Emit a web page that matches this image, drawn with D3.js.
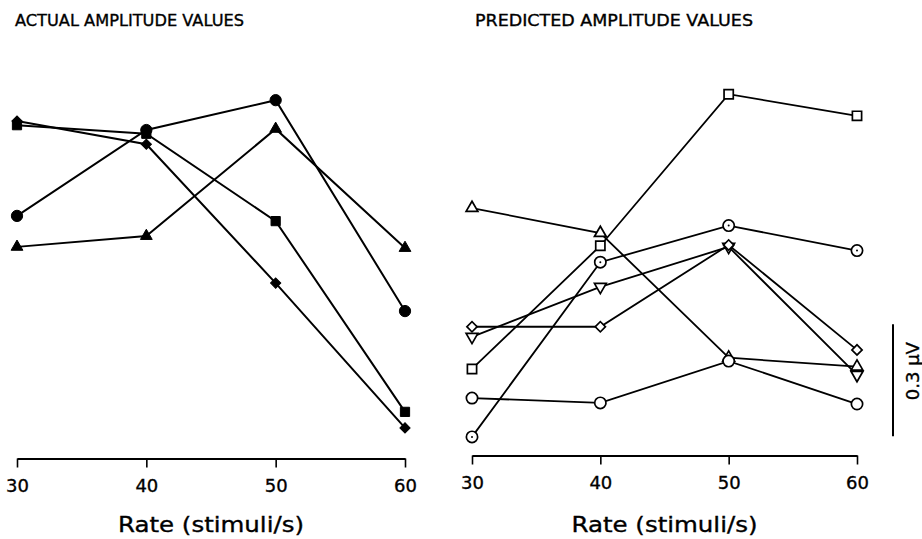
<!DOCTYPE html>
<html>
<head>
<meta charset="utf-8">
<script src="https://cdn.jsdelivr.net/npm/d3@7"></script>
<style>
  html, body { margin: 0; padding: 0; background: #fff; }
  svg { display: block; }
  text { font-family: "DejaVu Sans", sans-serif; fill: #000; stroke: #000; stroke-width: 0.35; }
</style>
</head>
<body>
<svg id="chart" width="922" height="539"></svg>
<script>
// Stimulation rates (stimuli/s)
const rates = [30, 40, 50, 60];

// Measured amplitudes (µV, relative to a common baseline), filled markers
const actualCircle   = [0.67, 0.90, 0.98, 0.415];
const actualSquare   = [0.913, 0.89, 0.656, 0.145];
const actualDiamond  = [0.924, 0.862, 0.49, 0.102];
const actualTriangle = [0.587, 0.616, 0.903, 0.584];

// Model predictions (µV), open markers
const predSquare      = [0.26, 0.59, 0.996, 0.938];
const predTriangle    = [0.691, 0.624, 0.29, 0.266];
const predDotCircle   = [0.078, 0.546, 0.644, 0.577];
const predCircle      = [0.182, 0.169, 0.281, 0.166];
const predInvTriangle = [0.346, 0.48, 0.587, 0.244];
const predDiamond     = [0.373, 0.373, 0.592, 0.311];

const tickLabels = ["30", "40", "50", "60"];
const scaleBarValue = 0.3;   // µV
const scaleBarLabel = "0.3 µV";

const svg = d3.select("#chart");

// shared amplitude scale
const y = d3.scaleLinear().domain([0, 1]).range([466, 92.7]);

const panels = [
  {
    title: "ACTUAL AMPLITUDE VALUES", titleX: 15, titleLen: 229,
    range: [17, 405], axisY: 458.5, filled: true,
    series: [
      { values: actualCircle,   shape: "circle" },
      { values: actualSquare,   shape: "square" },
      { values: actualDiamond,  shape: "diamond" },
      { values: actualTriangle, shape: "triangle" }
    ]
  },
  {
    title: "PREDICTED AMPLITUDE VALUES", titleX: 475, titleLen: 278,
    range: [472, 857], axisY: 455.5, filled: false,
    series: [
      { values: predSquare,      shape: "square" },
      { values: predTriangle,    shape: "triangle" },
      { values: predDotCircle,   shape: "dotcircle" },
      { values: predCircle,      shape: "circle" },
      { values: predInvTriangle, shape: "invtriangle" },
      { values: predDiamond,     shape: "diamond" }
    ]
  }
];

function symbolPath(shape) {
  switch (shape) {
    case "circle":
    case "dotcircle": return d3.symbol(d3.symbolCircle, 100)();
    case "square": return d3.symbol(d3.symbolSquare, 85)();
    case "diamond": return d3.symbol(d3.symbolSquare, 52)();
    case "triangle":
    case "invtriangle": return d3.symbol(d3.symbolTriangle, 60)();
  }
}
function symbolRotate(shape) {
  if (shape === "diamond") return 45;
  if (shape === "invtriangle") return 180;
  return 0;
}

panels.forEach(p => {
  const x = d3.scaleLinear().domain([30, 60]).range(p.range);
  const g = svg.append("g");

  // title
  g.append("text")
    .attr("x", p.titleX).attr("y", 25.5)
    .attr("font-size", 16)
    .attr("textLength", p.titleLen)
    .attr("lengthAdjust", "spacingAndGlyphs")
    .text(p.title);

  // x axis: ticks hang below the baseline
  const axis = d3.axisBottom(x)
    .tickValues(rates)
    .tickFormat((d, i) => tickLabels[i])
    .tickSizeInner(9).tickSizeOuter(0)
    .tickPadding(12);
  const ag = g.append("g")
    .attr("transform", `translate(0,${p.axisY})`)
    .call(axis);
  ag.select(".domain").attr("stroke", "#000").attr("stroke-width", 1.8);
  ag.selectAll(".tick line").attr("stroke", "#000").attr("stroke-width", 1.6);
  ag.selectAll(".tick text")
    .attr("font-size", 18)
    .attr("font-family", "DejaVu Sans, sans-serif")
    .attr("fill", "#000");

  // axis title
  g.append("text")
    .attr("x", (p.range[0] + p.range[1]) / 2)
    .attr("y", 531.5)
    .attr("text-anchor", "middle")
    .attr("font-size", 21)
    .attr("textLength", 186)
    .attr("lengthAdjust", "spacingAndGlyphs")
    .text("Rate (stimuli/s)");

  const line = d3.line().x((d, i) => x(rates[i])).y(d => y(d));

  // connecting lines
  p.series.forEach(s => {
    g.append("path")
      .datum(s.values)
      .attr("d", line)
      .attr("fill", "none")
      .attr("stroke", "#000")
      .attr("stroke-width", p.filled ? 2 : 1.8);
  });

  // markers
  p.series.forEach(s => {
    const mg = g.append("g");
    mg.selectAll("path")
      .data(s.values)
      .join("path")
      .attr("d", symbolPath(s.shape))
      .attr("transform", (d, i) => `translate(${x(rates[i])},${y(d)}) rotate(${symbolRotate(s.shape)})`)
      .attr("fill", p.filled ? "#000" : "#fff")
      .attr("stroke", "#000")
      .attr("stroke-width", p.filled ? 1 : 1.7);
    if (s.shape === "dotcircle") {
      mg.selectAll("circle")
        .data(s.values)
        .join("circle")
        .attr("cx", (d, i) => x(rates[i]))
        .attr("cy", d => y(d))
        .attr("r", 1)
        .attr("fill", "#000");
    }
  });
});

// amplitude scale bar
const barX = 893;
const barBottom = 0.08;
svg.append("line")
  .attr("x1", barX).attr("x2", barX)
  .attr("y1", y(barBottom)).attr("y2", y(barBottom + scaleBarValue))
  .attr("stroke", "#000").attr("stroke-width", 2);
svg.append("text")
  .attr("transform", `translate(919,${(y(barBottom) + y(barBottom + scaleBarValue)) / 2 - 9}) rotate(-90)`)
  .attr("text-anchor", "middle")
  .attr("font-size", 18)
  .text(scaleBarLabel);
</script>
</body>
</html>
